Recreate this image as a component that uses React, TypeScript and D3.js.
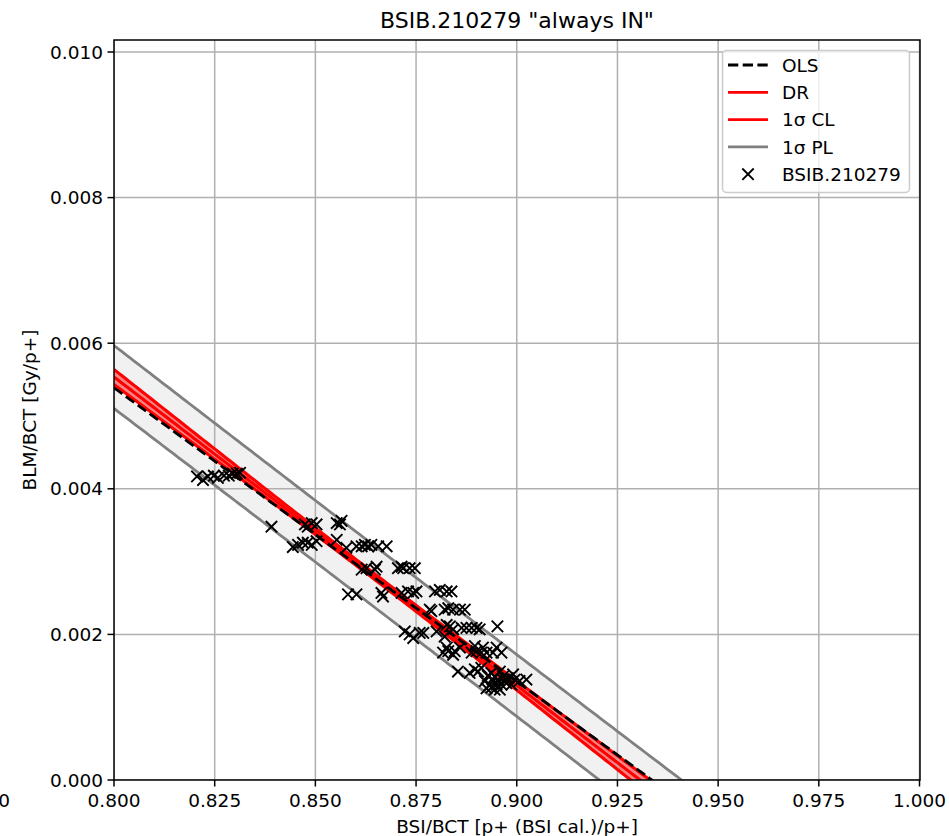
import React from "react";
import * as d3 from "d3";

// Measured beam-loss ratio vs. BSI/BCT ratio for BSIB.210279
const bsiBct = [
  0.8206, 0.8221, 0.8233, 0.8248, 0.8258, 0.8273, 0.8285, 0.8295, 0.8305, 0.8313,
  0.8391, 0.8474, 0.8491, 0.8503, 0.8481, 0.8553, 0.8565, 0.8561, 0.8444, 0.8457,
  0.8469, 0.8481, 0.8491, 0.8503, 0.8553, 0.8577, 0.8602, 0.8615, 0.8623, 0.8631,
  0.8639, 0.8656, 0.8677, 0.8615, 0.8627, 0.8652, 0.8648, 0.8705, 0.8714, 0.8718,
  0.8734, 0.8747, 0.8581, 0.8602, 0.8664, 0.8668, 0.8714, 0.873, 0.8743, 0.8751,
  0.8797, 0.8809, 0.8826, 0.8838, 0.8784, 0.8788, 0.8821, 0.883, 0.8842, 0.8859,
  0.8871, 0.8826, 0.8834, 0.8842, 0.8863, 0.8875, 0.8888, 0.89, 0.8908, 0.8952,
  0.8768, 0.8722, 0.8734, 0.8743, 0.8759, 0.8801, 0.8821, 0.8826, 0.8817, 0.883,
  0.8842, 0.8846, 0.8859, 0.8888, 0.8896, 0.89, 0.8912, 0.8916, 0.8925, 0.8941,
  0.895, 0.8962, 0.8854, 0.8883, 0.8896, 0.8904, 0.8912, 0.8937, 0.8945, 0.8958,
  0.8966, 0.8978, 0.8991, 0.8995, 0.9007, 0.9024, 0.8921, 0.8925, 0.8933, 0.895,
  0.8962, 0.8974, 0.8987, 0.8958, 0.8928, 0.894, 0.8953, 0.8968, 0.8937, 0.8945,
];
const blmBct = [
  0.00417, 0.00412, 0.00417, 0.00418, 0.00415, 0.00418, 0.00418, 0.00421, 0.00421, 0.00422,
  0.00348, 0.00351, 0.00353, 0.00351, 0.00348, 0.00353, 0.00356, 0.00351, 0.0032, 0.00323,
  0.00326, 0.00326, 0.00323, 0.00328, 0.0033, 0.00319, 0.00321, 0.00321, 0.00323, 0.00321,
  0.00323, 0.00321, 0.00321, 0.00289, 0.00291, 0.00293, 0.00289, 0.00291, 0.00293, 0.00291,
  0.00291, 0.00291, 0.00255, 0.00255, 0.00257, 0.00252, 0.00257, 0.00259, 0.00257, 0.00259,
  0.00259, 0.00261, 0.00259, 0.00259, 0.00234, 0.00232, 0.00234, 0.00236, 0.00234, 0.00234,
  0.00234, 0.00213, 0.00211, 0.00207, 0.00209, 0.00209, 0.00209, 0.00209, 0.00207, 0.00211,
  0.00202, 0.00204, 0.002, 0.00195, 0.00202, 0.00204, 0.00197, 0.00182, 0.00175, 0.00177,
  0.00172, 0.00177, 0.00182, 0.00175, 0.00184, 0.00177, 0.00175, 0.00182, 0.00175, 0.00175,
  0.00182, 0.00175, 0.00149, 0.00147, 0.00152, 0.00149, 0.00154, 0.00147, 0.00142, 0.00149,
  0.00142, 0.0014, 0.00145, 0.00138, 0.00136, 0.00138, 0.00136, 0.00126, 0.00131, 0.00131,
  0.00131, 0.00133, 0.00131, 0.00124, 0.00143, 0.00138, 0.00138, 0.00137, 0.00127, 0.00124,
];

// Fit results: [intercept, slope]
const olsFit = [0.03766, -0.04034];
const drFit = [0.03944, -0.04238];
// Confidence band of the DR fit: [mean x, min half-width, spread]
const clBand = [0.866, 0.00004, 0.00145];
// Residual scatter used for the prediction limits
const plSigma = [0.00042];

const xTicks = [0.8, 0.825, 0.85, 0.875, 0.9, 0.925, 0.95, 0.975, 1.0];
const yTicks = [0.0, 0.002, 0.004, 0.006, 0.008, 0.01];
const legendLabels = ["OLS", "DR", "1σ CL", "1σ PL", "BSIB.210279"];

const W = 949;
const H = 836;
const M = { left: 114, right: 920, top: 40, bottom: 780 };
const FONT = "DejaVu Sans, sans-serif";

export default function App() {
  const x = d3.scaleLinear().domain([0.8, 1.0]).range([M.left, 919.5]);
  const y = d3.scaleLinear().domain([0, 0.010165]).range([M.bottom, M.top]);

  const dr = (v: number) => drFit[0] + drFit[1] * v;
  const ols = (v: number) => olsFit[0] + olsFit[1] * v;
  const clHalf = (v: number) =>
    Math.sqrt(clBand[1] ** 2 + (clBand[2] * (v - clBand[0])) ** 2);
  const plHalf = (v: number) => Math.sqrt(plSigma[0] ** 2 + clHalf(v) ** 2);

  const xs = d3.range(0, 201).map((i) => 0.8 + (i * 0.2) / 200);

  const mk = (f: (v: number) => number) =>
    d3
      .line<number>()
      .x((v) => x(v))
      .y((v) => y(f(v)))(xs) as string;

  const areaOf = (lo: (v: number) => number, hi: (v: number) => number) =>
    d3
      .area<number>()
      .x((v) => x(v))
      .y0((v) => y(lo(v)))
      .y1((v) => y(hi(v)))(xs) as string;

  const plArea = areaOf((v) => dr(v) - plHalf(v), (v) => dr(v) + plHalf(v));
  const clArea = areaOf((v) => dr(v) - clHalf(v), (v) => dr(v) + clHalf(v));

  const lw = 2.8;
  const redLw = 3.1;
  const fmt = d3.format(".3f");

  const legendX = 722.5;
  const legendY = 50.5;
  const rowH = 27.3;

  return (
    <svg
      width={W}
      height={H}
      style={{ position: "absolute", left: 0, top: 0, background: "#fff" }}
      fontFamily={FONT}
    >
      <defs>
        <clipPath id="plotClip">
          <rect x={M.left} y={M.top} width={M.right - M.left} height={M.bottom - M.top} />
        </clipPath>
      </defs>

      {/* title */}
      <text x={(M.left + M.right) / 2} y={28} fontSize={22} textAnchor="middle">
        BSIB.210279 "always IN"
      </text>

      <g clipPath="url(#plotClip)">
        {/* prediction band */}
        <path d={plArea} fill="#000" fillOpacity={0.055} stroke="none" />
        {/* confidence band */}
        <path d={clArea} fill="#ff0000" fillOpacity={0.45} stroke="none" />

        {/* grid */}
        {xTicks.map((t) => (
          <line key={"gx" + t} x1={x(t)} x2={x(t)} y1={M.top} y2={M.bottom} stroke="#b0b0b0" strokeWidth={1.5} />
        ))}
        {yTicks.map((t) => (
          <line key={"gy" + t} x1={M.left} x2={M.right} y1={y(t)} y2={y(t)} stroke="#b0b0b0" strokeWidth={1.5} />
        ))}

        {/* prediction limits */}
        <path d={mk((v) => dr(v) + plHalf(v))} fill="none" stroke="#808080" strokeWidth={lw} />
        <path d={mk((v) => dr(v) - plHalf(v))} fill="none" stroke="#808080" strokeWidth={lw} />
        {/* confidence limits */}
        <path d={mk((v) => dr(v) + clHalf(v))} fill="none" stroke="#ff0000" strokeWidth={redLw} />
        <path d={mk((v) => dr(v) - clHalf(v))} fill="none" stroke="#ff0000" strokeWidth={redLw} />
        {/* DR fit */}
        <path d={mk(dr)} fill="none" stroke="#ff0000" strokeWidth={redLw} />
        {/* OLS fit */}
        <path d={mk(ols)} fill="none" stroke="#000" strokeWidth={lw} strokeDasharray="10.3 4.4" />

        {/* measurements */}
        {bsiBct.map((bx, i) => {
          const cx = x(bx);
          const cy = y(blmBct[i]);
          const r = 5.7;
          return (
            <path
              key={"p" + i}
              d={`M${cx - r},${cy - r}L${cx + r},${cy + r}M${cx - r},${cy + r}L${cx + r},${cy - r}`}
              stroke="#000"
              strokeWidth={1.9}
              fill="none"
            />
          );
        })}
      </g>

      {/* frame */}
      <rect
        x={M.left}
        y={M.top}
        width={M.right - M.left}
        height={M.bottom - M.top}
        fill="none"
        stroke="#000"
        strokeWidth={1.5}
      />

      {/* x axis */}
      {xTicks.map((t) => (
        <g key={"xt" + t}>
          <line x1={x(t)} x2={x(t)} y1={M.bottom} y2={M.bottom + 6.5} stroke="#000" strokeWidth={1.5} />
          <text x={x(t)} y={807} fontSize={18.5} textAnchor="middle">
            {fmt(t)}
          </text>
        </g>
      ))}
      <text x={10} y={807} fontSize={18.5} textAnchor="end">
        0
      </text>
      <text x={(M.left + M.right) / 2} y={833} fontSize={18.5} textAnchor="middle">
        BSI/BCT [p+ (BSI cal.)/p+]
      </text>

      {/* y axis */}
      {yTicks.map((t) => (
        <g key={"yt" + t}>
          <line x1={M.left - 6.5} x2={M.left} y1={y(t)} y2={y(t)} stroke="#000" strokeWidth={1.5} />
          <text x={M.left - 11} y={y(t)} dy="0.36em" fontSize={18.5} textAnchor="end">
            {fmt(t)}
          </text>
        </g>
      ))}
      <text
        transform={`translate(36,${(M.top + M.bottom) / 2}) rotate(-90)`}
        fontSize={18.5}
        textAnchor="middle"
      >
        BLM/BCT [Gy/p+]
      </text>

      {/* legend */}
      <g>
        <rect
          x={legendX}
          y={legendY}
          width={187}
          height={142}
          rx={4}
          fill="#fff"
          fillOpacity={0.8}
          stroke="#cccccc"
          strokeWidth={1.5}
        />
        {legendLabels.map((lab, i) => {
          const cy = 65 + i * rowH;
          let handle: React.ReactNode = null;
          if (i === 0)
            handle = <line x1={728} x2={768} y1={cy} y2={cy} stroke="#000" strokeWidth={lw} strokeDasharray="10.3 4.4" />;
          else if (i === 1 || i === 2)
            handle = <line x1={728} x2={768} y1={cy} y2={cy} stroke="#ff0000" strokeWidth={lw} />;
          else if (i === 3)
            handle = <line x1={728} x2={768} y1={cy} y2={cy} stroke="#808080" strokeWidth={lw} />;
          else
            handle = (
              <path
                d={`M${748 - 5.7},${cy - 5.7}L${748 + 5.7},${cy + 5.7}M${748 - 5.7},${cy + 5.7}L${748 + 5.7},${cy - 5.7}`}
                stroke="#000"
                strokeWidth={1.9}
              />
            );
          return (
            <g key={"lg" + i}>
              {handle}
              <text x={782} y={cy} dy="0.36em" fontSize={18.5}>
                {lab}
              </text>
            </g>
          );
        })}
      </g>
    </svg>
  );
}
